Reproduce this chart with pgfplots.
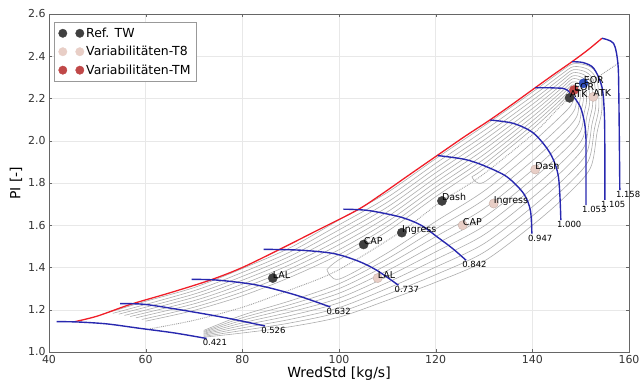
\documentclass[border=0pt]{standalone}
\usepackage{fontspec}
\setmainfont{DejaVu Sans}
\usepackage{pgfplots}
\pgfplotsset{compat=1.18}
\definecolor{refc}{RGB}{64,64,64}
\definecolor{t8c}{RGB}{232,206,198}
\definecolor{tmc}{RGB}{192,72,72}
\definecolor{spd}{RGB}{40,40,175}
\definecolor{surge}{RGB}{240,30,40}
\definecolor{cont}{RGB}{172,172,172}
\definecolor{eorc}{RGB}{50,80,190}
\begin{document}
\begin{tikzpicture}
\begin{axis}[name=ax, scale only axis, width=580bp, height=338bp,
  xmin=40, xmax=160, ymin=1.0, ymax=2.6, clip mode=individual,
  xtick={40,60,80,100,120,140,160},
  ytick={1.0,1.2,1.4,1.6,1.8,2.0,2.2,2.4,2.6},
  yticklabel style={/pgf/number format/fixed, /pgf/number format/fixed zerofill, /pgf/number format/precision=1},
  /pgf/number format/assume math mode=true,
  tick label style={font=\fontsize{11}{13}\selectfont, text=black!80},
  label style={font=\fontsize{14}{16}\selectfont},
  xlabel={WredStd [kg/s]}, ylabel={PI [-]},
  xlabel style={yshift=4bp}, ylabel style={yshift=-1bp},
  grid=major, major grid style={gray!18},
  axis line style={gray!80!black},
  tick style={gray!80!black, major tick length=3bp},
  legend style={at={(0.009,0.976)}, anchor=north west, draw=gray!80, font=\fontsize{12.5}{14}\selectfont, row sep=3.5bp, inner xsep=4bp, inner ysep=3.5bp},
  legend cell align=left,
]
% legend images
\addlegendimage{legend image code/.code={\fill[refc] (3bp,0bp) circle (4.2bp); \fill[refc] (20bp,0bp) circle (4.2bp);}}
\addlegendentry{Ref. TW}
\addlegendimage{legend image code/.code={\fill[t8c] (3bp,0bp) circle (4.2bp); \fill[t8c] (20bp,0bp) circle (4.2bp);}}
\addlegendentry{Variabilitäten-T8}
\addlegendimage{legend image code/.code={\fill[tmc] (3bp,0bp) circle (4.2bp); \fill[tmc] (20bp,0bp) circle (4.2bp);}}
\addlegendentry{Variabilitäten-TM}

% efficiency contours
\addplot[cont, line width=0.6pt, smooth, tension=0.5, forget plot] coordinates {(127.5,1.83)(130,1.868)(140,2.055)(146,2.182)(148.06,2.235)(148.4,2.233)(148.6,2.227)(148.64,2.213)(148.54,2.202)(148.4,2.185)(147,2.141)(140,1.992)(130,1.804)(127.5,1.83)};
\addplot[cont, line width=0.6pt, smooth, tension=0.5, forget plot] coordinates {(97.5,1.39)(100,1.437)(110,1.571)(120,1.735)(130,1.89)(140,2.074)(146,2.198)(148.12,2.249)(148.8,2.246)(149.2,2.234)(149.28,2.206)(149.08,2.184)(148.8,2.15)(147,2.096)(140,1.948)(130,1.762)(120,1.618)(110,1.469)(100,1.345)(97.5,1.39)};
\addplot[cont, line width=0.6pt, smooth, tension=0.5, forget plot] coordinates {(60,1.146)(70,1.197)(80,1.266)(90,1.355)(100,1.461)(110,1.594)(120,1.758)(130,1.913)(140,2.094)(146,2.215)(148.18,2.264)(149.2,2.259)(149.8,2.241)(149.92,2.199)(149.62,2.166)(149.2,2.115)(147,2.052)(140,1.905)(130,1.721)(120,1.582)(110,1.441)(100,1.323)(90,1.243)(80,1.174)(72,1.102)};
\addplot[cont, line width=0.6pt, smooth, tension=0.5, forget plot] coordinates {(59.2,1.154)(70,1.212)(80,1.284)(90,1.375)(100,1.484)(110,1.617)(120,1.78)(130,1.935)(140,2.113)(146,2.231)(148.24,2.278)(149.6,2.272)(150.4,2.248)(150.56,2.192)(150.16,2.148)(149.6,2.08)(147,2.007)(140,1.861)(130,1.679)(120,1.546)(110,1.413)(100,1.3)(90,1.225)(80,1.162)(72,1.097)};
\addplot[cont, line width=0.6pt, smooth, tension=0.5, forget plot] coordinates {(58,1.162)(70,1.228)(80,1.303)(90,1.395)(100,1.508)(110,1.64)(120,1.803)(130,1.958)(140,2.133)(146,2.248)(148.3,2.293)(150,2.285)(151,2.255)(151.2,2.185)(150.7,2.13)(150,2.045)(147,1.963)(140,1.818)(130,1.638)(120,1.51)(110,1.385)(100,1.278)(90,1.208)(80,1.15)(72,1.093)};
\addplot[cont, line width=0.6pt, smooth, tension=0.5, forget plot] coordinates {(56.8,1.168)(70,1.243)(80,1.321)(90,1.415)(100,1.531)(110,1.663)(120,1.825)(130,1.98)(140,2.152)(146,2.264)(148.36,2.307)(150.4,2.298)(151.6,2.262)(151.84,2.178)(151.24,2.112)(150.4,2.01)(147,1.918)(140,1.774)(130,1.596)(120,1.474)(110,1.357)(100,1.255)(90,1.19)(80,1.138)(72,1.088)};
\addplot[cont, line width=0.6pt, smooth, tension=0.5, forget plot] coordinates {(55.6,1.173)(70,1.259)(80,1.34)(90,1.435)(100,1.555)(110,1.686)(120,1.848)(130,2.003)(140,2.172)(146,2.281)(148.42,2.322)(150.8,2.311)(152.2,2.269)(152.48,2.171)(151.78,2.094)(150.8,1.975)(147,1.874)(140,1.731)(130,1.555)(120,1.438)(110,1.329)(100,1.233)(90,1.173)(80,1.126)(72,1.084)};
\addplot[cont, line width=0.6pt, smooth, tension=0.5, forget plot] coordinates {(54.4,1.179)(70,1.274)(80,1.358)(90,1.455)(100,1.578)(110,1.709)(120,1.87)(130,2.025)(140,2.191)(146,2.297)(148.48,2.336)(151.2,2.324)(152.8,2.276)(153.12,2.164)(152.32,2.076)(151.2,1.94)(147,1.829)(140,1.687)(130,1.513)(120,1.402)(110,1.301)(100,1.21)(90,1.155)(80,1.114)(72,1.079)};
\addplot[cont, line width=0.6pt, smooth, tension=0.5, forget plot] coordinates {(53.2,1.183)(70,1.29)(80,1.377)(90,1.475)(100,1.602)(110,1.732)(120,1.893)(130,2.048)(140,2.211)(146,2.314)(148.54,2.351)(151.6,2.337)(153.4,2.283)(153.76,2.157)(152.86,2.058)(151.6,1.905)(147,1.785)(140,1.644)(130,1.472)(120,1.366)(110,1.273)(100,1.188)(90,1.138)(80,1.102)(72,1.074)};
\addplot[cont, line width=0.6pt, smooth, tension=0.5, forget plot] coordinates {(52,1.185)(60,1.24)(70,1.305)(80,1.395)(90,1.495)(100,1.625)(110,1.755)(120,1.915)(130,2.07)(140,2.23)(146,2.33)(148.6,2.365)(152,2.35)(154,2.29)(154.4,2.15)(153.4,2.04)(152,1.87)(147,1.74)(140,1.6)(130,1.43)(120,1.33)(110,1.245)(100,1.165)(90,1.12)(80,1.09)(72,1.07)};

% working line
\addplot[gray!75, densely dotted, line width=0.9pt, smooth, forget plot] coordinates {(60.9,1.11)(70,1.15)(80.2,1.213)(90,1.295)(99.6,1.385)(112.7,1.568)(121,1.71)(129.2,1.83)(140.3,2.035)(147.9,2.208)(158,2.37)};

% surge line
\addplot[surge, line width=1.3pt, smooth, forget plot] coordinates {(45.4,1.144)(50,1.17)(56.8,1.225)(65,1.28)(73.3,1.34)(80,1.40)(88,1.489)(95,1.57)(103.7,1.671)(108.5,1.742)(114,1.83)(120.3,1.93)(126,2.02)(131.2,2.098)(136,2.175)(140.6,2.251)(144.5,2.315)(148.2,2.374)(151.5,2.43)(154.4,2.485)};

% speed lines
\addplot[spd, line width=1.4pt, smooth, forget plot] coordinates {(41.6,1.144)(46,1.142)(52,1.133)(58.8,1.112)(66,1.09)(72.6,1.064)};
\addplot[spd, line width=1.4pt, smooth, forget plot] coordinates {(54.7,1.229)(60,1.225)(69.2,1.192)(77,1.16)(84.7,1.123)};
\addplot[spd, line width=1.4pt, smooth, forget plot] coordinates {(69.5,1.344)(75,1.34)(83,1.317)(91,1.27)(98.2,1.213)};
\addplot[spd, line width=1.4pt, smooth, forget plot] coordinates {(84.4,1.486)(92,1.482)(98.9,1.466)(104,1.43)(107.8,1.387)(112.3,1.316)};
\addplot[spd, line width=1.4pt, smooth, forget plot] coordinates {(100.9,1.676)(106,1.67)(112.7,1.639)(117,1.6)(120.3,1.545)(123.5,1.49)(126.3,1.434)};
\addplot[spd, line width=1.4pt, smooth, forget plot] coordinates {(120.4,1.93)(126,1.912)(130,1.882)(134.7,1.83)(138.2,1.75)(139.6,1.67)(139.9,1.56)};
\addplot[spd, line width=1.4pt, smooth, forget plot] coordinates {(131.3,2.098)(136.1,2.082)(140.3,2.035)(143.7,1.94)(145.4,1.829)(145.9,1.624)};
\addplot[spd, line width=1.4pt, smooth, forget plot] coordinates {(140.6,2.251)(144.5,2.25)(147.2,2.24)(149.9,2.161)(151,2.05)(151.1,1.9)(151.1,1.695)};
\addplot[spd, line width=1.4pt, smooth, forget plot] coordinates {(148.2,2.374)(150.5,2.37)(152.7,2.343)(154.4,2.255)(154.9,2.129)(155,1.95)(155,1.72)};
\addplot[spd, line width=1.4pt, smooth, forget plot] coordinates {(154.4,2.485)(156.8,2.461)(157.7,2.366)(157.9,2.208)(158.1,1.766)};

% speed labels
\begin{scope}[every node/.style={anchor=north west, inner sep=0pt, xshift=-4bp, yshift=-1bp, font=\fontsize{8.5}{9}\selectfont}]
\node at (axis cs:72.6,1.064) {0.421};
\node at (axis cs:84.7,1.123) {0.526};
\node at (axis cs:98.2,1.213) {0.632};
\node at (axis cs:112.3,1.316) {0.737};
\node at (axis cs:126.3,1.434) {0.842};
\node at (axis cs:139.9,1.56) {0.947};
\node at (axis cs:145.9,1.624) {1.000};
\node at (axis cs:151.1,1.695) {1.053};
\node at (axis cs:155,1.72) {1.105};
\node at (axis cs:158.1,1.766) {1.158};
\end{scope}

% markers
\addplot[only marks, mark=*, mark size=4.6bp, mark options={fill=t8c, draw=t8c!85!black}, forget plot] coordinates {(108,1.35)(125.6,1.6)(132,1.703)(140.6,1.864)(152.6,2.208)};
\addplot[only marks, mark=*, mark size=4.6bp, mark options={fill=refc, draw=refc}, forget plot] coordinates {(86.3,1.35)(105.1,1.509)(113,1.565)(121.3,1.715)(147.7,2.203)};
\addplot[only marks, mark=*, mark size=4.6bp, mark options={fill=tmc, draw=tmc}, forget plot] coordinates {(148.6,2.24)};
\addplot[only marks, mark=*, mark size=4.6bp, mark options={fill=eorc, draw=eorc}, forget plot] coordinates {(150.6,2.272)};

% point labels
\begin{scope}[every node/.style={anchor=base west, inner sep=0pt, font=\fontsize{9.5}{10}\selectfont}]
\node at (axis cs:86.3,1.35) {LAL};
\node at (axis cs:105.1,1.509) {CAP};
\node at (axis cs:113,1.565) {Ingress};
\node at (axis cs:121.3,1.715) {Dash};
\node at (axis cs:108,1.35) {LAL};
\node at (axis cs:125.6,1.6) {CAP};
\node at (axis cs:132,1.703) {Ingress};
\node at (axis cs:140.6,1.864) {Dash};
\node at (axis cs:147.7,2.203) {ATK};
\node at (axis cs:152.6,2.208) {ATK};
\node at (axis cs:148.6,2.24) {EOR};
\node at (axis cs:150.6,2.272) {EOR};
\end{scope}
\end{axis}
\pgfresetboundingbox
\path[use as bounding box] ([xshift=-49bp,yshift=-28bp]ax.south west) rectangle ([xshift=14bp,yshift=14bp]ax.north east);
\end{tikzpicture}
\end{document}
